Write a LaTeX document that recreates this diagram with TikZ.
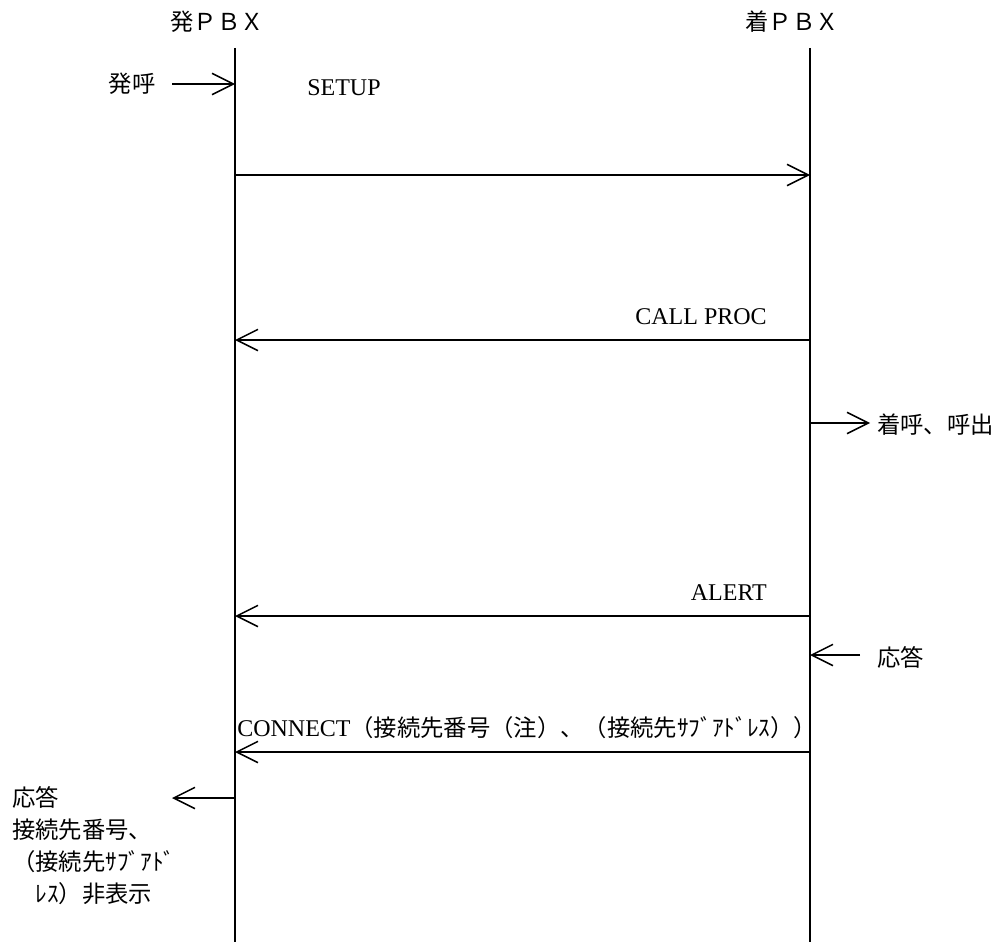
\documentclass[tikz,border=0pt]{standalone}
\usepackage{fontspec}
\setmainfont{Liberation Serif}
\newfontfamily\jp{Noto Sans CJK JP}
\usetikzlibrary{arrows.meta}
\begin{document}
\begin{tikzpicture}[x=0.75pt,y=-0.75pt,
  msg/.style={line width=1.1pt,-{Straight Barb[length=16pt,width=16pt,line width=1.1pt]}},
  life/.style={line width=1.1pt},
  jtxt/.style={font=\jp\fontsize{17.5}{24}\selectfont,inner sep=0pt},
  etxt/.style={font=\fontsize{18}{20}\selectfont,inner sep=0pt}]
\useasboundingbox (0,0) rectangle (1000,942);
\fill[white] (0,0) rectangle (1000,942);

% headers
\node[jtxt] (hA) at (217,22) {発ＰＢＸ};
\node[jtxt] (hB) at (792,22) {着ＰＢＸ};

% lifelines
\coordinate (a0) at (235,48); \coordinate (a1) at (235,942);
\coordinate (b0) at (810,48); \coordinate (b1) at (810,942);
\draw[life] (a0) -- (a1);
\draw[life] (b0) -- (b1);

% lifeline points
\coordinate (aCall) at (235,84);
\coordinate (aSetup) at (235,175);  \coordinate (bSetup) at (810,175);
\coordinate (aProc) at (235,340);   \coordinate (bProc) at (810,340);
\coordinate (bRing) at (810,423);
\coordinate (aAlert) at (235,616);  \coordinate (bAlert) at (810,616);
\coordinate (bAns) at (810,655);
\coordinate (aConn) at (235,752);   \coordinate (bConn) at (810,752);
\coordinate (aResp) at (235,798);

% free ends
\coordinate (callStart) at (172,84);
\coordinate (ringEnd) at (870,423);
\coordinate (ansStart) at (860,655);
\coordinate (respEnd) at (172,798);

% side labels
\node[jtxt] (tCall) at (132,84) {発呼};
\node[jtxt,anchor=west] (tRing) at (877,425) {着呼、呼出};
\node[jtxt,anchor=west] (tAns) at (877,657) {応答};
\node[jtxt,anchor=north west,align=left] (tResp) at (12,786)
  {応答\\接続先番号、\\（接続先ｻﾌﾞｱﾄﾞ\\\hspace*{1em}ﾚｽ）非表示};

% message labels
\node[etxt,anchor=west] (lSetup) at (307,88) {SETUP};
\node[etxt,anchor=east] (lProc) at (767,317) {CALL PROC};
\node[etxt,anchor=east] (lAlert) at (767,593) {ALERT};
\node[etxt,anchor=west] (lConn) at (237,728) {CONNECT{\jp\fontsize{17.5}{20}\selectfont （接続先番号（注）、（接続先ｻﾌﾞｱﾄﾞﾚｽ））}};

% arrows
\draw[msg] (callStart) -- (aCall);
\draw[msg] (aSetup) -- (bSetup);
\draw[msg] (bProc) -- (aProc);
\draw[msg] (bRing) -- (ringEnd);
\draw[msg] (bAlert) -- (aAlert);
\draw[msg] (ansStart) -- (bAns);
\draw[msg] (bConn) -- (aConn);
\draw[msg] (aResp) -- (respEnd);
\end{tikzpicture}
\end{document}
